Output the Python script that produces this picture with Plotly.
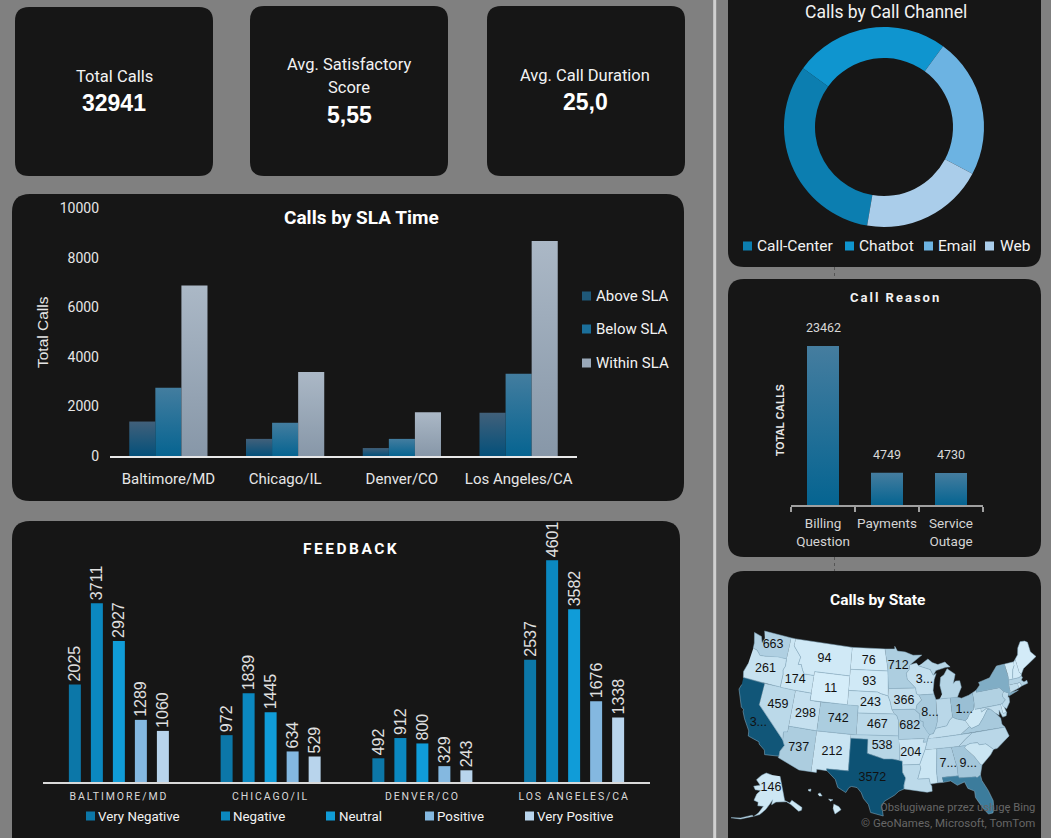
import json
import math
import plotly.graph_objects as go

W, H = 1051, 838

# KPI cards
kpi_titles = ["Total Calls", "Avg. Satisfactory", "Score", "Avg. Call Duration"]
kpi_values = ["32941", "5,55", "25,0"]

# Calls by SLA time
cities = ["Baltimore/MD", "Chicago/IL", "Denver/CO", "Los Angeles/CA"]
above_sla = [1390, 690, 320, 1745]
below_sla = [2750, 1340, 690, 3320]
within_sla = [6872, 3389, 1766, 8669]
sla_names = ["Above SLA", "Below SLA", "Within SLA"]

# Feedback
feedback_cities = ["BALTIMORE/MD", "CHICAGO/IL", "DENVER/CO", "LOS ANGELES/CA"]
very_negative = [2025, 972, 492, 2537]
negative = [3711, 1839, 912, 4601]
neutral = [2927, 1445, 800, 3582]
positive = [1289, 634, 329, 1676]
very_positive = [1060, 529, 243, 1338]
feedback_names = ["Very Negative", "Negative", "Neutral", "Positive", "Very Positive"]

# Channel donut
channels = ["Call-Center", "Chatbot", "Email", "Web"]
channel_calls = [10639, 8256, 7470, 6576]

# Call reason
reasons = ["Billing<br>Question", "Payments", "Service<br>Outage"]
reason_calls = [23462, 4749, 4730]

# Calls by state. Labels are as they show on the map (some cut off), the values
# behind the cut ones and behind the unlabelled states are guessed from the shade
state_calls = {"WA": 663, "OR": 261, "ID": 174, "MT": 94, "WY": 11, "ND": 76, "SD": 93, "NE": 243, "KS": 467,
               "CO": 742, "UT": 298, "NV": 459, "CA": 3450, "AZ": 737, "NM": 212, "TX": 3572, "OK": 538, "MN": 712,
               "IA": 366, "MO": 682, "AR": 204, "WI": 300, "IL": 800, "OH": 1000, "AL": 700, "GA": 900, "AK": 146,
               "LA": 450, "MS": 180, "TN": 420, "KY": 350, "WV": 150, "VA": 800, "NC": 500, "SC": 200, "FL": 2100,
               "PA": 650, "NY": 1300, "NJ": 450, "CT": 400, "MA": 600, "RI": 100, "VT": 60, "NH": 100, "ME": 50,
               "MD": 350, "DE": 80, "MI": 550, "IN": 500, "HI": 60}
cut_labels = {"CA": "3...", "WI": "3...", "IL": "8...", "OH": "1...", "AL": "7...", "GA": "9..."}
label_at = {"WA": (-120.3, 47.4), "OR": (-120.6, 44), "ID": (-114.5, 43.4), "MT": (-109.5, 47), "WY": (-107.5, 43),
            "ND": (-100.5, 47.3), "SD": (-100.2, 44.4), "NE": (-99.8, 41.5), "KS": (-98.4, 38.5), "CO": (-105.5, 39),
            "UT": (-111.5, 39.1), "NV": (-116.7, 39.5), "CA": (-119.4, 36.6), "AZ": (-111.7, 34.3), "NM": (-106, 34.4),
            "TX": (-99, 31.2), "OK": (-97.5, 35.6), "MN": (-94.5, 46.6), "IA": (-93.5, 41.8), "MO": (-92.6, 38.3),
            "AR": (-92.6, 34.7), "WI": (-89.4, 44.5), "IL": (-88.8, 40), "OH": (-82.5, 39.9), "AL": (-86.4, 32.8),
            "GA": (-83.1, 32.5)}

# rough state outlines, lon/lat
contiguous = {
    "WA": [(-122.8, 49), (-117, 49), (-117, 46), (-118.9, 46), (-119.3, 45.9), (-121.2, 45.65), (-122.3, 45.55), (-122.8, 45.9), (-123.2, 46.15), (-124, 46.25), (-124.1, 47), (-124.7, 48.4), (-123.1, 48.15), (-122.6, 47.3), (-122.3, 48)],
    "OR": [(-124, 46.25), (-123.2, 46.15), (-122.8, 45.9), (-122.3, 45.55), (-121.2, 45.65), (-119.3, 45.9), (-118.9, 46), (-117, 46), (-116.9, 45), (-117.2, 44.4), (-117, 43.8), (-117, 42), (-124.2, 42), (-124.5, 42.8), (-124.1, 44)],
    "CA": [(-124.2, 42), (-120, 42), (-120, 39), (-114.6, 35), (-114.15, 34.3), (-114.7, 33.4), (-114.7, 32.7), (-117.1, 32.5), (-117.3, 33.1), (-118.4, 33.75), (-118.5, 34.03), (-119.2, 34.15), (-120.5, 34.45), (-120.65, 35.15), (-121.9, 36.6), (-122.5, 37.5), (-122.5, 37.8), (-123, 38), (-123.8, 39.3), (-124.35, 40.3), (-124.1, 41)],
    "NV": [(-120, 42), (-114.05, 42), (-114.05, 36.2), (-114.75, 36.1), (-114.6, 35), (-120, 39)],
    "ID": [(-117, 49), (-116.05, 49), (-116.05, 48), (-114.3, 46.65), (-114.5, 45.6), (-113.9, 45.65), (-113.45, 44.95), (-113, 44.45), (-111.05, 44.48), (-111.05, 42), (-114.05, 42), (-117, 42), (-117, 43.8), (-117.2, 44.4), (-116.9, 45), (-117, 46)],
    "MT": [(-116.05, 49), (-104.05, 49), (-104.05, 45), (-111.05, 45), (-111.05, 44.48), (-113, 44.45), (-113.45, 44.95), (-113.9, 45.65), (-114.5, 45.6), (-114.3, 46.65), (-116.05, 48)],
    "WY": [(-111.05, 45), (-104.05, 45), (-104.05, 41), (-111.05, 41)],
    "UT": [(-114.05, 42), (-111.05, 42), (-111.05, 41), (-109.05, 41), (-109.05, 37), (-114.05, 37)],
    "AZ": [(-114.05, 37), (-109.05, 37), (-109.05, 31.33), (-111.07, 31.33), (-114.8, 32.5), (-114.7, 32.7), (-114.7, 33.4), (-114.15, 34.3), (-114.6, 35), (-114.75, 36.1), (-114.05, 36.2)],
    "CO": [(-109.05, 41), (-102.05, 41), (-102.05, 37), (-109.05, 37)],
    "NM": [(-109.05, 37), (-103, 37), (-103, 32), (-106.6, 32), (-106.5, 31.75), (-108.2, 31.78), (-108.2, 31.33), (-109.05, 31.33)],
    "ND": [(-104.05, 49), (-97.2, 49), (-96.6, 46.3), (-96.55, 45.93), (-104.05, 45.93)],
    "SD": [(-104.05, 45.93), (-96.55, 45.93), (-96.45, 45.3), (-96.45, 43.5), (-96.5, 42.5), (-97.9, 42.8), (-98.5, 43), (-104.05, 43)],
    "NE": [(-104.05, 43), (-98.5, 43), (-97.9, 42.8), (-96.5, 42.5), (-96.1, 41.7), (-95.77, 40.6), (-95.3, 40), (-102.05, 40), (-102.05, 41), (-104.05, 41)],
    "KS": [(-102.05, 40), (-95.3, 40), (-94.9, 39.8), (-94.6, 39.1), (-94.6, 37), (-102.05, 37)],
    "OK": [(-103, 37), (-94.62, 37), (-94.43, 35.4), (-94.48, 33.64), (-95.8, 33.85), (-97.2, 33.85), (-98.1, 34.1), (-100, 34.56), (-100, 36.5), (-103, 36.5)],
    "TX": [(-106.6, 32), (-103, 32), (-103, 36.5), (-100, 36.5), (-100, 34.56), (-98.1, 34.1), (-97.2, 33.85), (-95.8, 33.85), (-94.48, 33.64), (-94.04, 33.55), (-94.04, 32), (-93.55, 31.2), (-93.85, 30.2), (-93.85, 29.7), (-94.7, 29.4), (-95.4, 28.85), (-97, 28), (-97.4, 27.3), (-97.15, 25.95), (-99.1, 26.4), (-99.5, 27.5), (-100.3, 28.3), (-100.7, 29.1), (-101.4, 29.77), (-102.3, 29.88), (-102.7, 29.7), (-103.15, 28.98), (-104.5, 29.6), (-105, 30.65), (-106.5, 31.75)],
    "MN": [(-97.2, 49), (-95.15, 49), (-95.15, 49.38), (-94.6, 48.7), (-93, 48.55), (-91.4, 48.05), (-89.6, 48), (-92.1, 46.75), (-92.3, 46.1), (-92.9, 45.6), (-92.75, 44.75), (-91.2, 43.5), (-96.45, 43.5), (-96.45, 45.3), (-96.55, 45.93), (-96.6, 46.3)],
    "IA": [(-96.45, 43.5), (-91.2, 43.5), (-91.1, 42.7), (-90.65, 42.5), (-90.2, 41.8), (-91.1, 41.2), (-91.4, 40.4), (-91.7, 40.6), (-95.77, 40.6), (-96.1, 41.7), (-96.5, 42.5)],
    "MO": [(-95.77, 40.6), (-91.7, 40.6), (-91.4, 40.4), (-90.7, 39.9), (-90.7, 39), (-90.15, 38.8), (-90.2, 38.3), (-89.5, 37.3), (-89.15, 37), (-89.5, 36.5), (-89.7, 36), (-90.37, 36), (-90.15, 36.5), (-94.62, 36.5), (-94.62, 37), (-94.6, 39.1), (-94.9, 39.8), (-95.3, 40)],
    "AR": [(-94.62, 36.5), (-90.15, 36.5), (-90.37, 36), (-89.7, 36), (-90.1, 35), (-91.15, 33), (-94.04, 33), (-94.04, 33.55), (-94.48, 33.64), (-94.43, 35.4)],
    "LA": [(-94.04, 33), (-91.15, 33), (-91, 32.5), (-91.6, 31), (-89.75, 31), (-89.6, 30.2), (-89.4, 29.9), (-89.4, 29.2), (-90.2, 29.1), (-91.3, 29.3), (-92.3, 29.55), (-93.85, 29.7), (-93.85, 30.2), (-93.55, 31.2), (-94.04, 32)],
    "MS": [(-91.15, 33), (-90.1, 35), (-88.2, 35), (-88.1, 34.9), (-88.45, 31.9), (-88.4, 30.3), (-89.6, 30.2), (-89.75, 31), (-91.6, 31), (-91, 32.5)],
    "AL": [(-88.2, 35), (-85.6, 35), (-85.18, 32.87), (-85, 32.3), (-85, 31), (-87.6, 31), (-87.5, 30.3), (-88.4, 30.3), (-88.45, 31.9), (-88.1, 34.9)],
    "GA": [(-85.6, 35), (-83.1, 35), (-83.35, 34.7), (-82, 33.4), (-81.1, 32.1), (-80.9, 32), (-81.4, 30.7), (-82, 30.4), (-82.2, 30.55), (-84.86, 30.7), (-85, 31), (-85, 32.3), (-85.18, 32.87)],
    "FL": [(-87.6, 31), (-85, 31), (-84.86, 30.7), (-82.2, 30.55), (-82, 30.4), (-81.4, 30.7), (-81.3, 29.9), (-80.55, 28.4), (-80.05, 26.9), (-80.15, 25.75), (-80.4, 25.2), (-81.1, 25.15), (-81.8, 26.1), (-82.7, 27.7), (-82.7, 28.6), (-83.7, 29.1), (-84.1, 30.05), (-85.3, 29.7), (-86.3, 30.4), (-87.5, 30.3)],
    "SC": [(-83.35, 34.7), (-83.1, 35), (-82.3, 35.2), (-81.05, 35.15), (-80.8, 34.82), (-79.67, 34.8), (-78.55, 33.86), (-79.2, 33.2), (-80.9, 32), (-81.1, 32.1), (-82, 33.4)],
    "NC": [(-84.32, 35), (-83.1, 35), (-82.3, 35.2), (-81.05, 35.15), (-80.8, 34.82), (-79.67, 34.8), (-78.55, 33.86), (-77.9, 33.9), (-76.5, 34.7), (-75.5, 35.25), (-75.9, 36.55), (-81.68, 36.59), (-82.9, 35.95)],
    "TN": [(-90.1, 35), (-89.7, 36), (-89.5, 36.5), (-88.05, 36.5), (-83.67, 36.6), (-81.68, 36.59), (-82.9, 35.95), (-84.32, 35), (-85.6, 35), (-88.2, 35)],
    "KY": [(-89.5, 36.5), (-89.15, 37), (-88.5, 37.1), (-88, 37.8), (-87, 37.9), (-86, 38), (-85.4, 38.7), (-84.8, 39.1), (-84.2, 38.8), (-82.6, 38.4), (-82, 37.5), (-83.67, 36.6), (-88.05, 36.5)],
    "WV": [(-82.6, 38.4), (-82.2, 38.6), (-81.7, 39.2), (-80.85, 39.7), (-80.52, 40.64), (-80.52, 39.72), (-79.48, 39.72), (-79.48, 39.2), (-78.4, 39.6), (-77.75, 39.33), (-78.35, 39.4), (-79.3, 38.4), (-80.3, 37.5), (-81.68, 37.2), (-82, 37.5)],
    "VA": [(-83.67, 36.6), (-75.9, 36.55), (-76.3, 37), (-76.3, 37.9), (-77.05, 38.7), (-77.5, 39.1), (-77.75, 39.33), (-78.35, 39.4), (-79.3, 38.4), (-80.3, 37.5), (-81.68, 37.2), (-82, 37.5)],
    "MD": [(-79.48, 39.72), (-75.79, 39.72), (-75.7, 38.46), (-75.05, 38.45), (-75.25, 38.03), (-75.9, 37.95), (-76.3, 39), (-76.45, 38.3), (-77.05, 38.7), (-77.5, 39.1), (-77.75, 39.33), (-78.4, 39.6), (-79.48, 39.2)],
    "DE": [(-75.79, 39.72), (-75.4, 39.8), (-75.05, 38.45), (-75.7, 38.46)],
    "PA": [(-80.52, 42), (-79.76, 42.27), (-79.76, 42), (-75.35, 42), (-74.7, 41.36), (-75.1, 40.95), (-75.1, 40.6), (-74.75, 40.2), (-75.4, 39.8), (-75.79, 39.72), (-80.52, 39.72)],
    "NJ": [(-74.7, 41.36), (-73.9, 41), (-74.2, 40.45), (-74, 40.4), (-74.1, 39.75), (-74.9, 38.95), (-75.55, 39.5), (-75.4, 39.8), (-74.75, 40.2), (-75.1, 40.6), (-75.1, 40.95)],
    "NY": [(-79.76, 42.27), (-78.9, 42.9), (-79.05, 43.27), (-76.8, 43.6), (-76.2, 44.1), (-75, 45), (-73.35, 45), (-73.25, 43.6), (-73.27, 42.75), (-73.5, 42.05), (-73.5, 41.3), (-73.65, 41), (-72, 41.05), (-73.9, 40.6), (-74, 40.7), (-73.9, 41), (-74.7, 41.36), (-75.35, 42), (-79.76, 42)],
    "CT": [(-73.5, 42.05), (-71.8, 42.02), (-71.85, 41.32), (-73.65, 41), (-73.5, 41.3)],
    "RI": [(-71.8, 42.02), (-71.38, 42.02), (-71.15, 41.5), (-71.85, 41.32)],
    "MA": [(-73.5, 42.05), (-73.27, 42.75), (-72.46, 42.73), (-71.3, 42.7), (-70.8, 42.87), (-70.65, 42.6), (-71, 42.3), (-70.6, 41.95), (-70, 42.05), (-70, 41.65), (-71.15, 41.5), (-71.38, 42.02), (-71.8, 42.02)],
    "VT": [(-73.35, 45), (-71.5, 45), (-71.6, 44.5), (-72.05, 44), (-72.45, 43), (-72.46, 42.73), (-73.27, 42.75), (-73.25, 43.6)],
    "NH": [(-71.5, 45), (-71.08, 45.3), (-70.98, 43.4), (-70.7, 43.07), (-70.8, 42.87), (-71.3, 42.7), (-72.46, 42.73), (-72.45, 43), (-72.05, 44), (-71.6, 44.5)],
    "ME": [(-71.08, 45.3), (-70.4, 45.8), (-70, 46.7), (-69.2, 47.45), (-68.3, 47.35), (-67.8, 47.07), (-67.8, 45.7), (-67, 44.85), (-68.5, 44.3), (-70, 43.75), (-70.7, 43.07), (-70.98, 43.4)],
    "WI": [(-92.1, 46.75), (-90.8, 46.95), (-90.4, 46.55), (-88.1, 45.9), (-87.6, 45.1), (-87, 45.3), (-87.5, 44.5), (-87.9, 43), (-87.8, 42.5), (-90.65, 42.5), (-91.1, 42.7), (-91.2, 43.5), (-92.75, 44.75), (-92.9, 45.6), (-92.3, 46.1)],
    "IL": [(-90.65, 42.5), (-87.8, 42.5), (-87.5, 41.7), (-87.53, 39.35), (-87.6, 38.7), (-88, 37.8), (-88.5, 37.1), (-89.15, 37), (-89.5, 37.3), (-90.2, 38.3), (-90.15, 38.8), (-90.7, 39), (-90.7, 39.9), (-91.4, 40.4), (-91.1, 41.2), (-90.2, 41.8)],
    "IN": [(-87.5, 41.7), (-86.8, 41.76), (-84.8, 41.76), (-84.8, 39.1), (-85.4, 38.7), (-86, 38), (-87, 37.9), (-88, 37.8), (-87.6, 38.7), (-87.53, 39.35)],
    "OH": [(-84.8, 41.76), (-83.45, 41.72), (-82.7, 41.5), (-81.3, 41.75), (-80.52, 42), (-80.52, 40.64), (-80.85, 39.7), (-81.7, 39.2), (-82.2, 38.6), (-82.6, 38.4), (-84.2, 38.8), (-84.8, 39.1)],
    "MI": [(-86.8, 41.76), (-84.8, 41.76), (-83.45, 41.72), (-83.1, 42.2), (-82.45, 43), (-82.6, 43.9), (-83.4, 43.95), (-83.9, 43.65), (-83.3, 44.9), (-84.75, 45.78), (-85.5, 45), (-86.2, 44.7), (-86.5, 43.6), (-86.25, 42.4), None,
           (-90.4, 46.55), (-88.1, 45.9), (-87.6, 45.1), (-87, 45.7), (-85, 46), (-84.1, 46), (-84.75, 46.5), (-85, 46.75), (-86.5, 46.5), (-87.6, 46.85), (-88.4, 47.4), (-89.6, 46.85)],
}
alaska = [(-141, 69.6), (-141, 60.3), (-137.5, 58.9), (-135.5, 59.7), (-130, 55.9), (-131, 55), (-133, 55), (-135, 57), (-137, 58.3), (-139.8, 59.7), (-144, 60), (-148, 60.2), (-151.5, 59.3), (-150.5, 61.2), (-153, 59.5), (-156, 57.5), (-160, 55.5), (-163.5, 54.7), (-161, 56), (-157.7, 58.7), (-162, 58.7), (-162, 60), (-165.5, 60.5), (-164, 63), (-161, 64.5), (-166, 64.5), (-168, 65.7), (-162, 66.5), (-166.5, 68.3), (-162, 70.2), (-156.5, 71.3), (-150, 70.5), None,
          (-164, 54.6), (-172, 52.5), (-178, 51.8), (-172, 52.9), (-165, 54.9)]
hawaii = [(-155.9, 20.25), (-155.1, 19.9), (-154.8, 19.5), (-155.7, 18.95), (-156, 19.7), None,
          (-156.7, 20.9), (-156, 20.8), (-156.4, 20.6), None,
          (-158.3, 21.55), (-157.95, 21.7), (-157.65, 21.3), (-158.1, 21.3), None,
          (-159.8, 22.1), (-159.35, 22.2), (-159.4, 21.9), (-159.7, 21.95)]

CARD = "#161616"
sla_colors = ["#1f5878", "#1b6f9a", "#99a8b8"]
feedback_colors = ["#0c77a8", "#0b88c0", "#109cd8", "#84b8e0", "#b8d4ec"]
channel_colors = ["#0c7eb0", "#0f95cf", "#6cb3e2", "#aacdea"]
reason_color = "#2a7199"
map_ramp = [(0, "#d6eefa"), (900, "#a3c6da"), (2100, "#3c7c9c"), (3600, "#0d5274")]

# top / bottom of the bar fill, the library only does flat bars
gradients = {
    "#1f5878": ("#41607a", "#04507a"),
    "#1b6f9a": ("#437d9f", "#066491"),
    "#99a8b8": ("#abb8c6", "#8797a8"),
    "#2a7199": ("#457d9f", "#056491"),
}


def px(x):
    return x / W


def py(y):
    return 1 - y / H


def card(x0, y0, x1, y1, r=14):
    path = (f"M {px(x0 + r)},{py(y0)} L {px(x1 - r)},{py(y0)} Q {px(x1)},{py(y0)} {px(x1)},{py(y0 + r)} "
            f"L {px(x1)},{py(y1 - r)} Q {px(x1)},{py(y1)} {px(x1 - r)},{py(y1)} "
            f"L {px(x0 + r)},{py(y1)} Q {px(x0)},{py(y1)} {px(x0)},{py(y1 - r)} "
            f"L {px(x0)},{py(y0 + r)} Q {px(x0)},{py(y0)} {px(x0 + r)},{py(y0)} Z")
    return dict(type="path", xref="paper", yref="paper", path=path, fillcolor=CARD, line_width=0, layer="below")


def label(x, y, text, size, color="#f2f2f2", family="Roboto", bold=False, angle=0, anchor="center"):
    return dict(xref="paper", yref="paper", x=px(x), y=py(y), text=text, showarrow=False, xanchor=anchor,
                yanchor="middle", textangle=angle, font=dict(size=size, color=color, family=family,
                                                             weight="bold" if bold else "normal"))


def albers(lon, lat, p1, p2, lat0, lon0):
    p1, p2, lat0 = math.radians(p1), math.radians(p2), math.radians(lat0)
    n = (math.sin(p1) + math.sin(p2)) / 2
    c = math.cos(p1) ** 2 + 2 * n * math.sin(p1)
    rho = math.sqrt(c - 2 * n * math.sin(math.radians(lat))) / n
    rho0 = math.sqrt(c - 2 * n * math.sin(lat0)) / n
    theta = n * math.radians(lon - lon0)
    return rho * math.sin(theta), rho0 - rho * math.cos(theta)


def fitter(points, box, *proj):
    # projection plus a linear fit into a pixel box of the map card
    xy = [albers(p[0], p[1], *proj) for p in points if p]
    x0, x1 = min(p[0] for p in xy), max(p[0] for p in xy)
    y0, y1 = min(p[1] for p in xy), max(p[1] for p in xy)

    def place(lon, lat):
        x, y = albers(lon, lat, *proj)
        return box[0] + (x - x0) / (x1 - x0) * (box[2] - box[0]), box[3] - (y - y0) / (y1 - y0) * (box[3] - box[1])
    return place


def shade(v):
    for (a, ca), (b, cb) in zip(map_ramp, map_ramp[1:]):
        if v <= b:
            t = (v - a) / (b - a)
            rgb = [int(ca[i:i + 2], 16) * (1 - t) + int(cb[i:i + 2], 16) * t for i in (1, 3, 5)]
            return "rgb(%d,%d,%d)" % tuple(rgb)
    return map_ramp[-1][1]


fig = go.Figure()

# SLA bars
for name, vals, col in zip(sla_names, [above_sla, below_sla, within_sla], sla_colors):
    fig.add_trace(go.Bar(x=cities, y=vals, name=name, marker_color=col, marker_line_width=0,
                         xaxis="x", yaxis="y", showlegend=False))

# feedback bars, thin and spaced out. bargap is shared between subplots so width/offset by hand
fb_step, fb_width = 0.145, 0.079
fb_vals = [very_negative, negative, neutral, positive, very_positive]
for i, (name, vals, col) in enumerate(zip(feedback_names, fb_vals, feedback_colors)):
    fig.add_trace(go.Bar(x=feedback_cities, y=vals, name=name, marker_color=col, marker_line_width=0,
                         width=fb_width, offset=(i - 2) * fb_step - fb_width / 2,
                         text=vals, textposition="outside", textangle=-90, constraintext="none", cliponaxis=False,
                         textfont=dict(size=16, color="#e0e0e0", family="Liberation Sans"),
                         xaxis="x2", yaxis="y2", showlegend=False))

# call reason
fig.add_trace(go.Bar(x=reasons, y=reason_calls, marker_color=reason_color, marker_line_width=0, width=0.5,
                     xaxis="x3", yaxis="y3", showlegend=False))

fig.add_trace(go.Pie(labels=channels, values=channel_calls, hole=0.69, sort=False, direction="clockwise",
                     rotation=189.7, marker=dict(colors=channel_colors, line_width=0), textinfo="none",
                     domain=dict(x=[px(784), px(984)], y=[py(227), py(27)]), showlegend=False))

# map, plotly's own geo needs a topojson from the cdn so the states are filled outlines
lower48 = [p for pts in contiguous.values() for p in pts]
us_proj = (29.5, 45.5, 37.5, -96)
place_us = fitter(lower48, (739, 631, 1036, 816), *us_proj)
place_ak = fitter(alaska, (731, 773, 802, 819), 55, 65, 50, -154)
place_hi = fitter(hawaii, (808, 789, 841, 814), 8, 18, 13, -157)
map_shapes = [(s, pts, place_us) for s, pts in contiguous.items()] + [("AK", alaska, place_ak), ("HI", hawaii, place_hi)]
for state, pts, place in map_shapes:
    xy = [place(*p) if p else (None, None) for p in pts]
    fig.add_trace(go.Scatter(x=[p[0] for p in xy], y=[p[1] for p in xy], mode="lines", fill="toself",
                             fillcolor=shade(state_calls[state]), line=dict(color="#8fb5ca", width=0.5),
                             name=state, text=str(state_calls[state]), hoverinfo="name+text",
                             xaxis="x4", yaxis="y4", showlegend=False))

label_states = list(label_at)
label_xy = [place_us(*label_at[s]) for s in label_states]
fig.add_trace(go.Scatter(x=[p[0] for p in label_xy] + [771], y=[p[1] for p in label_xy] + [788], mode="text",
                         text=[cut_labels.get(s, str(state_calls[s])) for s in label_states] + [str(state_calls["AK"])],
                         textfont=dict(size=12.5, color="#111111", family="Liberation Sans"), hoverinfo="skip",
                         xaxis="x4", yaxis="y4", showlegend=False))

annotations = []
kpi_title_x = [114, 349, 349, 585]
kpi_title_y = [76, 64, 88, 75]
for x, y, t in zip(kpi_title_x, kpi_title_y, kpi_titles):
    annotations.append(label(x, y, t, 16.5))
kpi_x = [114, 349, 585]
kpi_value_y = [103, 115, 102]
for x, y, v in zip(kpi_x, kpi_value_y, kpi_values):
    annotations.append(label(x, y, v, 23, color="#ffffff", family="Liberation Sans", bold=True))

annotations += [
    label(361, 218, "Calls by SLA Time", 19, color="#ffffff", bold=True),
    label(351, 549, "FEEDBACK", 15.5, color="#ffffff", bold=True),
    label(886, 12, "Calls by Call Channel", 17.5, color="#f2f2f2"),
    label(895, 298, "Call Reason", 13, color="#f2f2f2", bold=True),
    label(877, 600, "Calls by State", 15.5, color="#ffffff", bold=True),
    label(42, 332, "Total Calls", 15.5, color="#e6e6e6", family="Liberation Sans", angle=-90),
    label(780, 420, "TOTAL CALLS", 10.5, color="#e6e6e6", family="Liberation Sans", bold=True, angle=-90),
    label(1037, 807, "Obsługiwane przez usługę Bing", 11.2, color="#666666", anchor="right"),
    label(1037, 823, "© GeoNames, Microsoft, TomTom", 11.5, color="#666666", anchor="right"),
]

# reason labels sit well above the bars
for r, v in zip(reasons, reason_calls):
    annotations.append(dict(xref="x3", yref="y3", x=r, y=v, text=str(v), showarrow=False, yshift=18,
                            font=dict(size=12.5, color="#d9d9d9", family="Roboto")))

shapes = [
    card(15, 7, 213, 176), card(250, 6, 448, 176), card(487, 6, 685, 176),
    card(12, 194, 684, 501, 18), card(12, 521, 680, 860, 18),
    card(728, -20, 1041, 267, 16), card(728, 279, 1041, 557, 16), card(728, 571, 1041, 860, 16),
    dict(type="line", xref="paper", yref="paper", x0=px(714.7), x1=px(714.7), y0=0, y1=1,
         line=dict(color="#d0d0d0", width=3), layer="below"),
    dict(type="line", xref="paper", yref="paper", x0=px(834.5), x1=px(834.5), y0=py(267), y1=py(279),
         line=dict(color="#555555", width=1, dash="dot"), layer="below"),
    dict(type="line", xref="paper", yref="paper", x0=px(834.5), x1=px(834.5), y0=py(557), y1=py(571),
         line=dict(color="#555555", width=1, dash="dot"), layer="below"),
]


def legend_items(names, colors, swatch_x, text_x, ys, size, family="Roboto", swatch=9):
    for name, col, sx, tx, y in zip(names, colors, swatch_x, text_x, ys):
        shapes.append(dict(type="rect", xref="paper", yref="paper", x0=px(sx), x1=px(sx + swatch),
                           y0=py(y + swatch / 2), y1=py(y - swatch / 2), fillcolor=col, line_width=0))
        annotations.append(label(tx, y, name, size, family=family, anchor="left"))


legend_items(sla_names, sla_colors, [582] * 3, [594] * 3, [296, 329, 363], 15)
legend_items(feedback_names, feedback_colors, [86, 221, 326, 425, 525], [96, 231, 337, 435, 535], [816] * 5, 13.3)
legend_items(channels, channel_colors, [743, 845, 924, 985], [755, 857, 936, 998], [246] * 4, 15.5, swatch=9)

fig.update_layout(
    width=W, height=H, margin=dict(l=0, r=0, t=0, b=0, autoexpand=False), autosize=False,
    paper_bgcolor="#808080", plot_bgcolor="rgba(0,0,0,0)",
    barmode="group", bargap=0.33, bargroupgap=0,
    annotations=annotations, shapes=shapes,
    xaxis=dict(domain=[px(110), px(577)], anchor="y", showline=True, linecolor="#e8e8e8", linewidth=2, showgrid=False,
               ticks="", ticklabelstandoff=8, tickfont=dict(size=15, color="#e6e6e6", family="Roboto"), fixedrange=True),
    yaxis=dict(domain=[py(456), py(208)], anchor="x", range=[0, 10000], dtick=2000, tickformat="d", showgrid=False,
               zeroline=False, ticks="", ticklabelstandoff=10, tickfont=dict(size=14, color="#e6e6e6", family="Roboto")),
    xaxis2=dict(domain=[px(43), px(650)], anchor="y2", showline=True, linecolor="#d9d9d9", linewidth=2, showgrid=False,
                ticks="", ticklabelstandoff=3, tickfont=dict(size=10.5, color="#d9d9d9", family="Roboto")),
    yaxis2=dict(domain=[py(782), py(541)], anchor="x2", range=[0, 5000], visible=False),
    xaxis3=dict(domain=[px(791), px(983)], anchor="y3", showline=True, linecolor="#a0a0a0", linewidth=2, showgrid=False,
                ticks="outside", tickson="boundaries", ticklen=5, tickcolor="#a0a0a0", tickwidth=2, tickangle=0,
                ticklabelstandoff=5, tickfont=dict(size=13.5, color="#d4d4d4", family="Roboto")),
    yaxis3=dict(domain=[py(505), py(335.5)], anchor="x3", range=[0, 25000], visible=False),
    xaxis4=dict(domain=[0, 1], anchor="y4", range=[0, W], visible=False),
    yaxis4=dict(domain=[0, 1], anchor="x4", range=[H, 0], visible=False),
)

# bar gradients + letter spacing, neither is in the plotly api
post = """
var svg = document.querySelector('.main-svg');
document.body.style.margin = '0';
var grads = %s;
var defs = svg.querySelector('defs');
var ns = 'http://www.w3.org/2000/svg';
Object.keys(grads).forEach(function(key, i) {
  var g = document.createElementNS(ns, 'linearGradient');
  g.setAttribute('id', 'bargrad' + i);
  g.setAttribute('x1', '0'); g.setAttribute('y1', '0'); g.setAttribute('x2', '0'); g.setAttribute('y2', '1');
  grads[key].forEach(function(c, j) {
    var s = document.createElementNS(ns, 'stop');
    s.setAttribute('offset', j); s.setAttribute('stop-color', c);
    g.appendChild(s);
  });
  defs.appendChild(g);
  grads[key].id = 'bargrad' + i;
});
document.querySelectorAll('.barlayer .point path').forEach(function(p) {
  var f = getComputedStyle(p).fill.replace(/ /g, '');
  if (grads[f]) p.style.fill = 'url(#' + grads[f].id + ')';
});
document.querySelectorAll('.x2tick text').forEach(function(t) { t.style.letterSpacing = '1.9px'; });
document.querySelectorAll('.annotation-text').forEach(function(t) {
  if (t.textContent == 'FEEDBACK') t.style.letterSpacing = '2.5px';
  if (t.textContent == 'Call Reason') t.style.letterSpacing = '2px';
});
"""


def rgb_key(h):
    return "rgb(%d,%d,%d)" % (int(h[1:3], 16), int(h[3:5], 16), int(h[5:7], 16))


post = post % json.dumps({rgb_key(k): v for k, v in gradients.items()})
fig.write_html("out.html", post_script=post, config={"displayModeBar": False})
